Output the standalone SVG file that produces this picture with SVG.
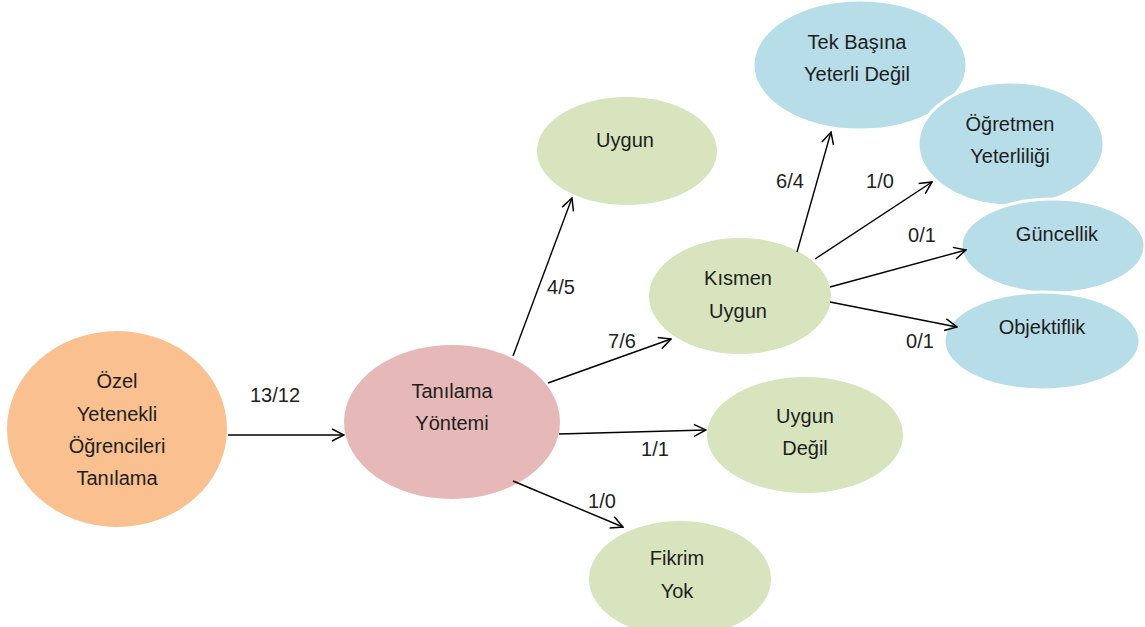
<svg xmlns="http://www.w3.org/2000/svg" width="1145" height="627" viewBox="0 0 1145 627">
  <defs>
    <marker id="arrow" viewBox="0 0 14 14" refX="13" refY="7" markerWidth="14" markerHeight="14" markerUnits="userSpaceOnUse" orient="auto">
      <path d="M1,1 L13,7 L1,13" fill="none" stroke="#000" stroke-width="1.5"/>
    </marker>
  </defs>
  <style>
    text { font-family: "Liberation Sans", Arial, sans-serif; font-size: 20px; fill: #1e1e1e; text-anchor: middle; }
    .orange { fill: #FAC090; }
    .pink { fill: #E6B8B7; }
    .green { fill: #D7E4BD; }
    .blue { fill: #B7DDE8; stroke: #fff; stroke-width: 3; }
    .edge { stroke: #000; stroke-width: 1.4; fill: none; marker-end: url(#arrow); }
  </style>
  <rect width="1145" height="627" fill="#fff"/>

  <g id="node-ozel">
    <ellipse class="orange" cx="117" cy="429" rx="110" ry="98"/>
    <text x="117" y="388">Özel</text>
    <text x="117" y="421">Yetenekli</text>
    <text x="117" y="453">Öğrencileri</text>
    <text x="117" y="485">Tanılama</text>
  </g>

  <g id="node-tanilama">
    <ellipse class="pink" cx="452" cy="422" rx="108" ry="77"/>
    <text x="452" y="398">Tanılama</text>
    <text x="452" y="430">Yöntemi</text>
  </g>

  <g id="node-uygun">
    <ellipse class="green" cx="627" cy="151" rx="90" ry="54"/>
    <text x="625" y="147">Uygun</text>
  </g>

  <g id="node-kismen">
    <ellipse class="green" cx="740" cy="296" rx="91" ry="58"/>
    <text x="738" y="285">Kısmen</text>
    <text x="738" y="318">Uygun</text>
  </g>

  <g id="node-uygun-degil">
    <ellipse class="green" cx="805" cy="435" rx="98" ry="58"/>
    <text x="805" y="423">Uygun</text>
    <text x="805" y="455">Değil</text>
  </g>

  <g id="node-fikrim">
    <ellipse class="green" cx="680" cy="579" rx="91" ry="58"/>
    <text x="677" y="565">Fikrim</text>
    <text x="677" y="598">Yok</text>
  </g>

  <g id="node-tek-basina">
    <ellipse class="blue" cx="860" cy="65" rx="107" ry="65"/>
    <text x="857" y="49">Tek Başına</text>
    <text x="857" y="81">Yeterli Değil</text>
  </g>

  <g id="node-ogretmen">
    <ellipse class="blue" cx="1011" cy="144" rx="93" ry="62"/>
    <text x="1010" y="131">Öğretmen</text>
    <text x="1010" y="163">Yeterliliği</text>
  </g>

  <g id="node-guncellik">
    <ellipse class="blue" cx="1053" cy="246" rx="92" ry="47"/>
    <text x="1057" y="241">Güncellik</text>
  </g>

  <g id="node-objektiflik">
    <ellipse class="blue" cx="1042" cy="341" rx="98" ry="49"/>
    <text x="1042" y="334">Objektiflik</text>
  </g>

  <!-- arrows sit above the ellipses so their heads stay visible -->
  <g id="connectors">
    <line class="edge" x1="228" y1="435" x2="344" y2="435"/>
    <line class="edge" x1="513" y1="356" x2="572" y2="198"/>
    <line class="edge" x1="548" y1="383" x2="671" y2="339"/>
    <line class="edge" x1="559" y1="434" x2="706" y2="430"/>
    <line class="edge" x1="513" y1="481" x2="623" y2="527"/>
    <line class="edge" x1="797" y1="252" x2="831" y2="132"/>
    <line class="edge" x1="815" y1="259" x2="932" y2="182"/>
    <line class="edge" x1="830" y1="287" x2="966" y2="250"/>
    <line class="edge" x1="830" y1="302" x2="957" y2="327"/>
    <text x="275" y="402">13/12</text>
    <text x="561" y="294">4/5</text>
    <text x="622" y="348">7/6</text>
    <text x="655" y="456">1/1</text>
    <text x="602" y="508">1/0</text>
    <text x="790" y="188">6/4</text>
    <text x="880" y="188">1/0</text>
    <text x="922" y="242">0/1</text>
    <text x="920" y="348">0/1</text>
  </g>
</svg>
